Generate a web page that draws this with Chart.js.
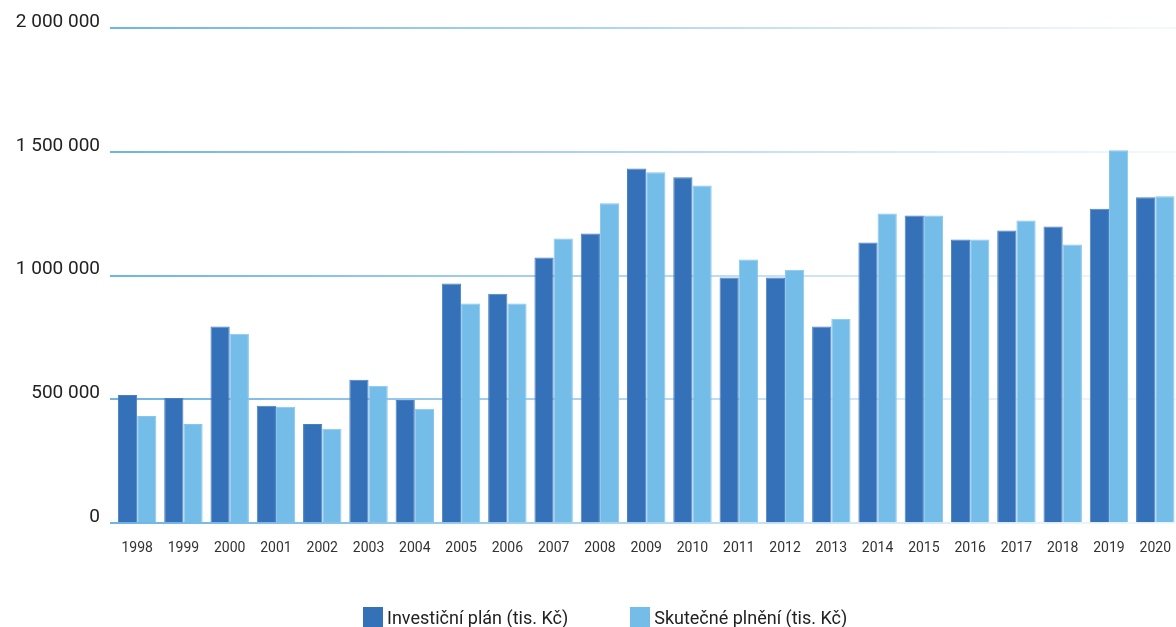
<!DOCTYPE html>
<html>
<head>
<meta charset="utf-8">
<script src="https://cdn.jsdelivr.net/npm/chart.js@4/dist/chart.umd.min.js"></script>
<style>
    html, body { margin: 0; padding: 0; background: #fff; overflow: hidden; }
    #wrap { position: relative; width: 1180px; height: 627px; }
    #legend { position: absolute; left: 363px; top: 607px; display: flex; font-family: Roboto, sans-serif; font-size: 18px; color: #222; }
    #legend .item { display: flex; align-items: center; margin-right: 62px; height: 20px; }
    #legend .box { width: 20px; height: 20px; margin-right: 4px; }
</style>
</head>
<body>
<div id="wrap">
    <canvas id="myChart" width="1180" height="627"></canvas>
    <div id="legend"></div>
</div>
<script>
// data
const years = ['1998', '1999', '2000', '2001', '2002', '2003', '2004', '2005', '2006', '2007', '2008', '2009',
    '2010', '2011', '2012', '2013', '2014', '2015', '2016', '2017', '2018', '2019', '2020'];
const planValues = [518000, 506000, 794000, 474000, 401000, 579000, 498000, 968000, 927000, 1073000, 1170000, 1433000,
    1397000, 992000, 992000, 794000, 1134000, 1243000, 1146000, 1182000, 1198000, 1270000, 1316000];
const actualValues = [433000, 401000, 765000, 470000, 381000, 555000, 462000, 887000, 887000, 1150000, 1292000, 1417000,
    1364000, 1065000, 1024000, 826000, 1251000, 1243000, 1146000, 1223000, 1126000, 1506000, 1320000];
const seriesNames = ['Investiční plán (tis. Kč)', 'Skutečné plnění (tis. Kč)'];
const yTicks = [0, 500000, 1000000, 1500000, 2000000];

const darkBlue = '#3471b8';
const lightBlue = '#75bde9';

// gridlines fade out to the right
function gridColor(context) {
    const chart = context.chart;
    const area = chart.chartArea;
    if (!area) return '#75b9e5';
    const g = chart.ctx.createLinearGradient(area.left, 0, area.right, 0);
    g.addColorStop(0, '#6fb5e3');
    g.addColorStop(0.5, '#b3d7f1');
    g.addColorStop(1, 'rgba(235,244,252,0.6)');
    return g;
}

// html legend built from the chart's own legend items
const htmlLegend = {
    id: 'htmlLegend',
    afterUpdate(chart) {
        const box = document.getElementById('legend');
        box.innerHTML = '';
        const items = chart.options.plugins.legend.labels.generateLabels(chart);
        items.forEach(item => {
            const el = document.createElement('div');
            el.className = 'item';
            el.innerHTML = `<span class="box" style="background:${item.fillStyle}"></span><span>${item.text}</span>`;
            box.appendChild(el);
        });
    }
};

const ctx = document.getElementById('myChart').getContext('2d');

const myChart = new Chart(ctx, {
    type: 'bar',
    data: {
        labels: years,
        datasets: [{
            label: seriesNames[0],
            data: planValues,
            backgroundColor: darkBlue,
            borderColor: '#4a80c2',
            borderWidth: 1,
        }, {
            label: seriesNames[1],
            data: actualValues,
            backgroundColor: lightBlue,
            borderColor: '#86c6ee',
            borderWidth: 1,
        }]
    },
    options: {
        responsive: false,
        animation: false,
        layout: { padding: { left: 0, right: 0, top: 28, bottom: 61 } },
        datasets: {
            bar: { categoryPercentage: 0.83, barPercentage: 1.0 }
        },
        scales: {
            x: {
                grid: { display: false },
                border: { display: false },
                ticks: {
                    color: '#333',
                    font: { family: 'Roboto', size: 14 },
                    padding: 9,
                    maxRotation: 0,
                },
            },
            y: {
                min: 0,
                max: 2000000,
                afterBuildTicks: axis => { axis.ticks = yTicks.map(v => ({ value: v })); },
                grid: { color: gridColor, lineWidth: 2, drawTicks: true, tickLength: 4 },
                border: { display: false },
                afterFit: axis => { axis.width = 114; },
                ticks: {
                    color: '#222',
                    font: { family: 'Roboto', size: 19 },
                    padding: 10,
                    labelOffset: -6,
                    callback: value => value.toLocaleString('en-US').replace(/,/g, ' '),
                },
            },
        },
        plugins: {
            legend: { display: false },
            tooltip: { enabled: false },
        },
    },
    plugins: [htmlLegend],
});
</script>
</body>
</html>
